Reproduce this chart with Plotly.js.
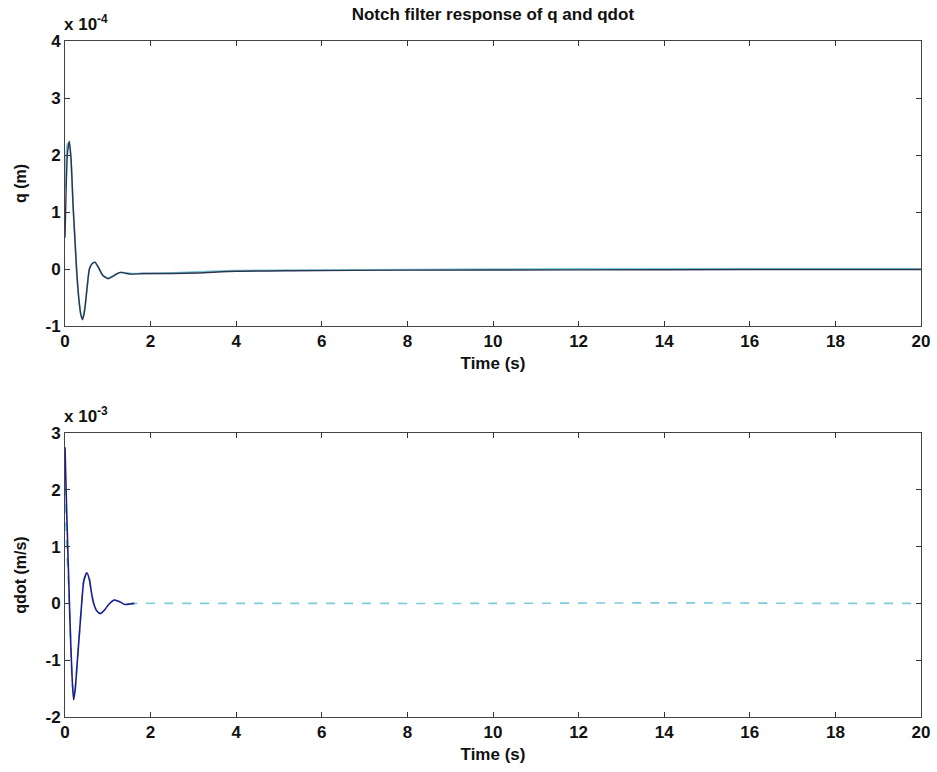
<!DOCTYPE html>
<html>
<head>
<meta charset="utf-8">
<script src="https://cdn.plot.ly/plotly-3.0.1.min.js"></script>
<style>html,body{margin:0;padding:0;background:#fff;}#chart{width:937px;height:772px;}</style>
</head>
<body>
<div id="chart"></div>
<script>
// Time samples (s) and values
const tQ      = [0, 0.03, 0.06, 0.10, 0.14, 0.19, 0.23, 0.27, 0.32, 0.37, 0.41, 0.46, 0.52, 0.57, 0.63, 0.70, 0.78, 0.88, 1.01, 1.12, 1.22, 1.32, 1.44, 1.56, 1.8, 2.5, 3.1, 4.0, 5.3, 8, 12, 16, 20];
const qDark   = [0.55, 1.5, 2.05, 2.24, 1.95, 1.1, 0.55, 0.0, -0.5, -0.8, -0.89, -0.72, -0.3, 0.0, 0.09, 0.12, 0.03, -0.11, -0.17, -0.13, -0.08, -0.06, -0.08, -0.09, -0.08, -0.08, -0.07, -0.04, -0.03, -0.02, -0.015, -0.01, -0.01];
const qCyan   = [1.4, 2.0, 2.2, 2.18, 1.9, 1.1, 0.55, 0.0, -0.5, -0.8, -0.87, -0.7, -0.3, 0.0, 0.09, 0.11, 0.03, -0.11, -0.16, -0.12, -0.08, -0.06, -0.07, -0.08, -0.08, -0.07, -0.05, -0.03, -0.02, -0.01, 0.0, 0.0, 0.0];

const tQd     = [0, 0.04, 0.08, 0.12, 0.16, 0.20, 0.24, 0.28, 0.33, 0.39, 0.44, 0.51, 0.57, 0.62, 0.67, 0.75, 0.83, 0.92, 1.02, 1.15, 1.28, 1.40, 1.52, 1.62];
const qdDark  = [2.75, 1.6, 0.6, -0.4, -1.2, -1.7, -1.5, -1.1, -0.6, 0.0, 0.4, 0.54, 0.42, 0.18, 0.0, -0.14, -0.18, -0.12, -0.02, 0.06, 0.03, -0.02, -0.01, 0.0];
const tQdC    = [0, 0.02, 0.04, 0.08, 0.12, 0.16, 0.20, 0.24, 0.28, 0.33, 0.39, 0.44, 0.51, 0.57, 0.62, 0.67, 0.75, 0.83, 0.92, 1.02, 1.15, 1.28, 1.40, 1.52, 1.7, 3, 6, 10, 14, 18, 20];
const qdCyan  = [2.7, 1.4, 0.9, 0.4, -0.4, -1.2, -1.65, -1.5, -1.1, -0.6, 0.0, 0.4, 0.53, 0.42, 0.18, 0.0, -0.14, -0.17, -0.12, -0.02, 0.06, 0.03, -0.02, -0.01, 0.0, 0.0, 0.0, 0.0, 0.01, 0.0, 0.0];

const xTicks  = [0, 2, 4, 6, 8, 10, 12, 14, 16, 18, 20];
const qTicks  = [-1, 0, 1, 2, 3, 4];
const qdTicks = [-2, -1, 0, 1, 2, 3];

const FONT = "'Liberation Sans', Arial, Helvetica, sans-serif";
const DARK_TOP = '#2c3450';
const DARK_BOT = '#1d1f8a';
const CYAN = '#7ccbd8';

const traces = [
  {x: tQ, y: qCyan, xaxis: 'x', yaxis: 'y', mode: 'lines', line: {color: CYAN, width: 1.8, shape: 'spline', smoothing: 0.6}, hoverinfo: 'skip'},
  {x: tQ, y: qDark, xaxis: 'x', yaxis: 'y', mode: 'lines', line: {color: DARK_TOP, width: 1.4, shape: 'spline', smoothing: 0.6}, hoverinfo: 'skip'},
  {x: tQdC, y: qdCyan, xaxis: 'x2', yaxis: 'y2', mode: 'lines', line: {color: CYAN, width: 1.6, dash: 'dash', shape: 'spline', smoothing: 0.6}, hoverinfo: 'skip'},
  {x: tQd, y: qdDark, xaxis: 'x2', yaxis: 'y2', mode: 'lines', line: {color: DARK_BOT, width: 1.6, shape: 'spline', smoothing: 0.6}, hoverinfo: 'skip'}
];

const tickFont = {family: FONT, size: 17, color: '#111', weight: 'bold'};

function xa(anchor) {
  return {
    anchor: anchor, domain: [0, 1], range: [0, 20], tickvals: xTicks, ticktext: xTicks.map(String),
    ticks: 'inside', ticklen: 5, tickwidth: 1, tickcolor: '#333', mirror: 'ticks',
    showline: true, linecolor: '#444', linewidth: 1, showgrid: false, zeroline: false,
    tickfont: tickFont, automargin: false,
    title: {text: 'Time (s)', standoff: 6, font: {family: FONT, size: 17, color: '#111', weight: 'bold'}}
  };
}
function ya(anchor, domain, range, ticks, label) {
  return {
    anchor: anchor, domain: domain, range: range, tickvals: ticks, ticktext: ticks.map(String),
    ticks: 'inside', ticklen: 5, tickwidth: 1, tickcolor: '#333', mirror: 'ticks',
    showline: true, linecolor: '#444', linewidth: 1, showgrid: false, zeroline: false,
    tickfont: tickFont, automargin: false,
    title: {text: label, standoff: 14, font: {family: FONT, size: 16, color: '#111', weight: 'bold'}}
  };
}

const layout = {
  width: 937, height: 772,
  margin: {l: 65, r: 16, t: 41, b: 55},
  paper_bgcolor: '#fff', plot_bgcolor: '#fff',
  showlegend: false,
  title: {text: 'Notch filter response of q and qdot', x: 0.526, xanchor: 'center', y: 0.982, yanchor: 'middle',
          font: {family: FONT, size: 17, color: '#111', weight: 'bold'}},
  xaxis: xa('y'),
  yaxis: ya('x', [0.5784, 1], [-1, 4], qTicks, 'q (m)'),
  xaxis2: xa('y2'),
  yaxis2: ya('x2', [0, 0.4201], [-2, 3], qdTicks, 'qdot (m/s)'),
  annotations: [
    {text: 'x 10<sup>-4</sup>', xref: 'paper', yref: 'paper', x: -0.003, y: 1.027, showarrow: false,
     xanchor: 'left', yanchor: 'middle', font: {family: FONT, size: 17, color: '#111', weight: 'bold'}},
    {text: 'x 10<sup>-3</sup>', xref: 'paper', yref: 'paper', x: -0.003, y: 0.447, showarrow: false,
     xanchor: 'left', yanchor: 'middle', font: {family: FONT, size: 17, color: '#111', weight: 'bold'}}
  ]
};

Plotly.newPlot('chart', traces, layout, {staticPlot: true, displayModeBar: false});
</script>
</body>
</html>
